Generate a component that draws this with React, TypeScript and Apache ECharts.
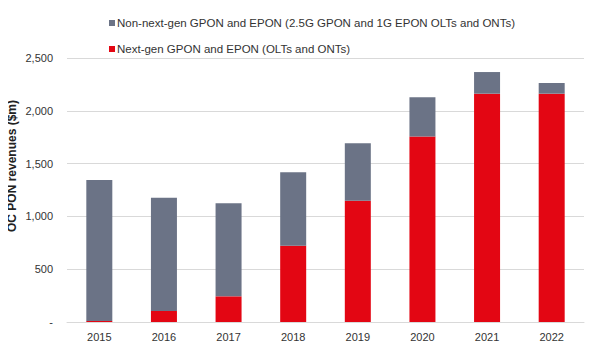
import React, { useEffect, useRef } from "react";
import * as echarts from "echarts";

const years = ["2015", "2016", "2017", "2018", "2019", "2020", "2021", "2022"];
const nextGen = [10, 104, 243, 723, 1149, 1757, 2162, 2162];
const nonNextGen = [1335, 1073, 881, 695, 543, 371, 205, 101];
const nameNonNext = "Non-next-gen GPON and EPON (2.5G GPON and 1G EPON OLTs and ONTs)";
const nameNext = "Next-gen GPON and EPON (OLTs and ONTs)";
const yTitle = "OC PON revenues ($m)";
const FONT = "Liberation Sans";

export default function App() {
  const ref = useRef<HTMLDivElement>(null);
  useEffect(() => {
    if (!ref.current) return;
    const chart = echarts.init(ref.current, undefined, { renderer: "svg" });
    chart.setOption({
      animation: false,
      textStyle: { fontFamily: FONT },
      legend: {
        orient: "vertical",
        left: 104,
        top: 12,
        itemGap: 14,
        itemWidth: 6,
        itemHeight: 6,
        icon: "rect",
        data: [nameNonNext, nameNext],
        textStyle: { fontSize: 11.5, color: "#333", fontFamily: FONT, padding: [0, 0, 0, -3] },
      },
      graphic: [
        {
          type: "text",
          x: 12,
          y: 166,
          rotation: Math.PI / 2,
          style: {
            text: yTitle,
            fontSize: 12,
            fontWeight: "bold",
            fontFamily: FONT,
            fill: "#222",
            textAlign: "center",
            textVerticalAlign: "middle",
          },
        },
      ],
      grid: { left: 67, right: 16, top: 58, bottom: 30, containLabel: false },
      xAxis: {
        type: "category",
        data: years,
        axisLine: { lineStyle: { color: "#d9d9d9" } },
        axisTick: { show: false },
        axisLabel: { color: "#333", fontSize: 11, margin: 9, fontFamily: FONT },
      },
      yAxis: {
        type: "value",
        min: 0,
        max: 2500,
        interval: 500,
        axisLine: { show: false },
        axisTick: { show: false },
        splitLine: { lineStyle: { color: "#d9d9d9" } },
        axisLabel: {
          color: "#333",
          fontSize: 11,
          margin: 14,
          fontFamily: FONT,
          formatter: (v: number) => (v === 0 ? "-" : v.toLocaleString("en-US")),
        },
      },
      series: [
        {
          name: nameNext,
          type: "bar",
          stack: "total",
          data: nextGen,
          barWidth: 26,
          itemStyle: { color: "#e30613" },
        },
        {
          name: nameNonNext,
          type: "bar",
          stack: "total",
          data: nonNextGen,
          barWidth: 26,
          itemStyle: { color: "#6b7386" },
        },
      ],
    });
    return () => chart.dispose();
  }, []);
  return <div ref={ref} style={{ width: 600, height: 352, margin: -8 }} />;
}
